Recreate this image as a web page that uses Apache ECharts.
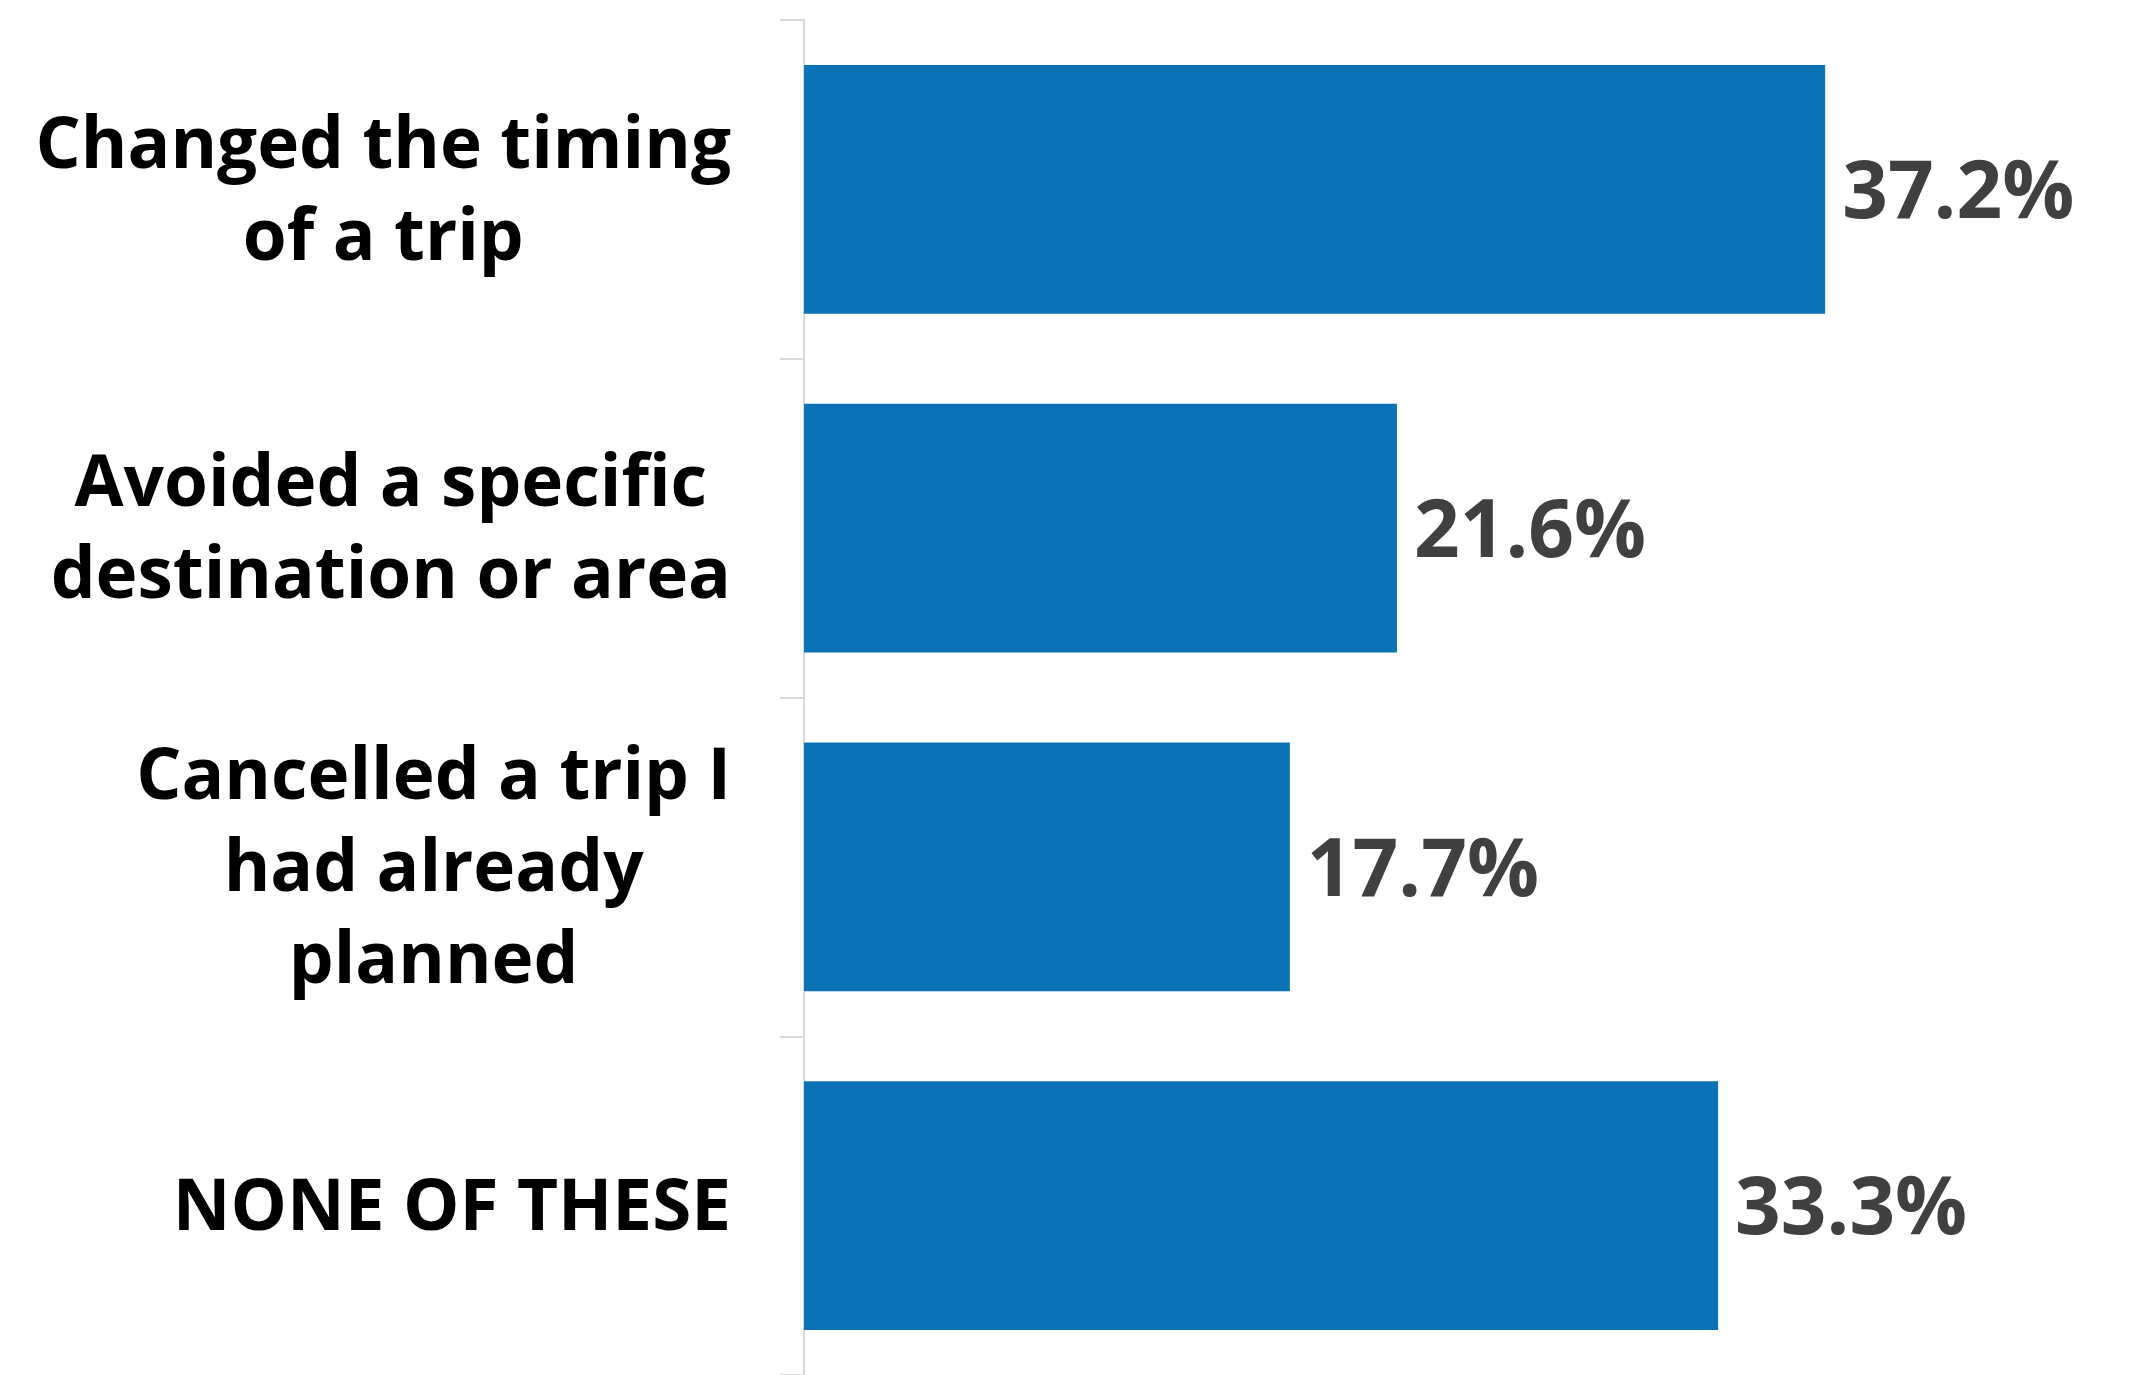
<!DOCTYPE html>
<html>
<head>
<meta charset="utf-8">
<style>
  html, body { margin: 0; padding: 0; background: #ffffff; }
  #chart { width: 2131px; height: 1375px; }
</style>
<script src="https://cdn.jsdelivr.net/npm/echarts@6/dist/echarts.min.js"></script>
</head>
<body>
<div id="chart"></div>
<script>
// Survey responses: how travel plans changed
const categories = [
  'Changed the timing\nof a trip',
  'Avoided a specific\ndestination or area',
  'Cancelled a trip I\nhad already\nplanned',
  'NONE OF THESE'
];
const shares = [37.2, 21.6, 17.7, 33.3];

const chart = echarts.init(document.getElementById('chart'));

const labelFont = {
  color: '#000000',
  fontFamily: 'Open Sans',
  fontWeight: 'bold',
  fontSize: 71,
  lineHeight: 92
};

chart.setOption({
  animation: false,
  backgroundColor: '#ffffff',
  // the plot runs slightly past the bottom edge of the canvas
  grid: { left: 804, right: 229, top: 20, height: 1360, containLabel: false },
  xAxis: {
    type: 'value',
    min: 0,
    max: 40,
    show: false
  },
  yAxis: {
    type: 'category',
    inverse: true,
    data: categories,
    axisLine: { show: true, lineStyle: { color: '#d9d9d9', width: 2 } },
    axisTick: { show: true, length: 24, lineStyle: { color: '#d9d9d9', width: 2 } },
    axisLabel: Object.assign({
      margin: 73,
      align: 'right',
      padding: [8, 0, 0, 0],
      formatter: function (v) {
        return v.split('\n').map(function (line) { return '{c|' + line + '}'; }).join('\n');
      },
      rich: {
        c: Object.assign({ align: 'center' }, labelFont)
      }
    }, labelFont),
    splitLine: { show: false }
  },
  series: [{
    type: 'bar',
    data: shares,
    barCategoryGap: '26.5%',
    itemStyle: { color: '#0b72b5' },
    label: {
      show: true,
      position: 'right',
      distance: 17,
      offset: [0, 6],
      color: '#404040',
      fontFamily: 'Open Sans',
      fontWeight: 'bold',
      fontSize: 80,
      formatter: function (p) { return p.value.toFixed(1) + '%'; }
    }
  }]
});
</script>
</body>
</html>
